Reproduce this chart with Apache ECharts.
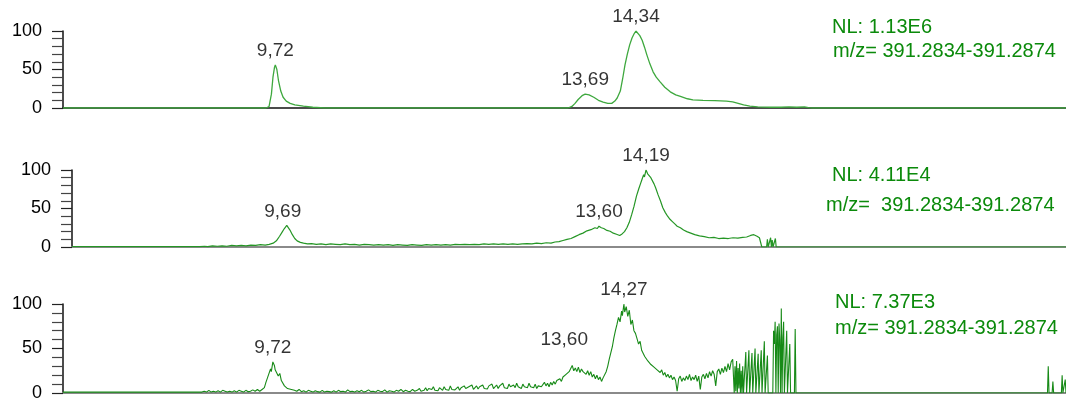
<!DOCTYPE html>
<html>
<head>
<meta charset="utf-8">
<script src="https://cdn.jsdelivr.net/npm/echarts@6/dist/echarts.min.js"></script>
<style>
  html, body { margin: 0; padding: 0; background: #fff; }
  #chart { width: 1066px; height: 406px; }
</style>
</head>
<body>
<div id="chart"></div>
<script>
// Extracted-ion chromatograms: [retention time (min), relative abundance (%)]
const traceA = [
  [7.00,0],[9.60,0],[9.64,2],[9.67,18],[9.69,40],[9.71,53],[9.72,56],[9.74,50],[9.76,36],[9.79,22],
  [9.82,14],[9.86,9],[9.91,6],[9.97,4],[10.08,2.5],[10.20,1],[10.35,0],
  [13.47,0],[13.52,2],[13.56,6],[13.60,11],[13.65,16],[13.69,18],[13.74,17],[13.80,14],[13.86,10],
  [13.92,7.5],[13.98,6],[14.03,6],[14.07,9],[14.10,13],[14.14,22],[14.17,38],[14.20,56],[14.23,70],
  [14.26,82],[14.29,91],[14.32,97],[14.34,100],[14.36,98],[14.39,94],[14.42,88],[14.45,79],[14.48,69],
  [14.52,57],[14.56,47],[14.60,40],[14.65,34],[14.71,27],[14.78,21],[14.85,17],[14.91,15],[15.00,12],
  [15.07,10.5],[15.20,10],[15.35,9.5],[15.50,9],[15.58,8],[15.65,6],[15.72,4],[15.80,2.5],[15.90,1.5],
  [16.06,1],[16.20,1],[16.30,1.5],[16.40,1],[16.50,1.5],[16.55,0.5],[16.60,0],[19.85,0]
];

const traceB = [
  [7.00,0.5],[8.60,0.5],[8.66,1],[8.70,0.5],[8.76,1.5],[8.82,1],[8.88,1.5],[8.94,1],[9.00,2],[9.06,1.5],
  [9.12,2],[9.18,1.5],[9.24,2.5],[9.30,2],[9.36,3],[9.42,2.5],[9.47,3.5],[9.52,5],[9.56,8],[9.60,14],
  [9.63,19],[9.66,24],[9.69,28],[9.71,26],[9.73,22],[9.76,16],[9.79,11],[9.82,8],[9.86,6],[9.90,5],
  [9.95,4],[10.00,4.5],[10.06,3.5],[10.12,4],[10.18,3],[10.24,4],[10.30,3.5],[10.36,3],[10.42,4],[10.48,3],
  [10.54,3.5],[10.60,2.5],[10.66,3.5],[10.72,3],[10.78,2.5],[10.84,3],[10.90,2.5],[10.96,3],[11.02,2],[11.08,3],
  [11.14,2.5],[11.20,2],[11.26,3],[11.32,2.5],[11.38,2],[11.44,3],[11.50,2.5],[11.56,3],[11.62,2.5],[11.68,3],
  [11.74,2.5],[11.80,3.5],[11.86,3],[11.92,3.5],[11.98,3],[12.04,3.5],[12.10,3],[12.16,4],[12.22,3.5],[12.28,4],
  [12.34,3.5],[12.40,4],[12.46,3.5],[12.52,4],[12.58,3.5],[12.64,4],[12.70,4.5],[12.76,4],[12.82,5],[12.88,4.5],
  [12.94,5.5],[13.00,5],[13.05,6.5],[13.10,7],[13.15,8.5],[13.20,10],[13.25,11],[13.30,13.5],[13.35,16],[13.40,18],
  [13.45,21],[13.50,22.5],[13.55,25],[13.58,24],[13.60,27],[13.63,25],[13.66,24],[13.70,21.5],[13.74,20.5],[13.78,18],
  [13.82,16.5],[13.86,15],[13.89,17],[13.92,20],[13.95,25],[13.98,32],[14.01,42],[14.04,53],[14.07,66],[14.10,76],
  [14.12,82],[14.14,88],[14.16,94],[14.17,91],[14.19,100],[14.21,95],[14.23,97],[14.25,90],[14.27,88],[14.29,82],
  [14.31,77],[14.34,68],[14.37,60],[14.40,51],[14.43,45],[14.46,40],[14.49,36],[14.52,33],[14.55,30],[14.58,27],
  [14.62,25],[14.66,22],[14.70,20],[14.75,18],[14.80,16],[14.86,14.5],[14.92,13.5],[14.98,12],[15.04,12.5],[15.10,11],
  [15.16,11.5],[15.22,11],[15.28,12],[15.34,11.5],[15.40,12.5],[15.45,13],[15.50,15],[15.54,16],[15.58,14],[15.61,12],
  [15.63,11],[15.64,0],[15.70,0],[15.71,10],[15.72,0],[15.74,0],[15.75,12],[15.76,0],[15.77,9],[15.78,0],
  [15.80,0],[15.81,11],[15.82,0],[19.45,0]
];

const traceC = [
  [7.00,1],[7.25,1],[7.26,3],[7.27,1],[7.53,1],[7.54,3],[7.55,1],[7.64,1],[7.65,2.5],[7.66,1],
  [7.73,1],[7.74,3],[7.75,1],[7.99,1],[8.00,3],[8.01,1],[8.16,1],[8.17,2.5],[8.18,1],[8.57,1],
  [8.58,3],[8.59,1],[8.80,1],[8.83,2],[8.86,1],[8.89,3],[8.92,1],[8.95,2],[8.98,1],[9.01,2.5],
  [9.04,1],[9.07,3],[9.10,2],[9.13,1],[9.16,2],[9.19,1],[9.22,2.5],[9.25,1],[9.28,3],[9.31,2],
  [9.34,1],[9.37,3],[9.40,1.5],[9.43,2],[9.46,3.5],[9.49,2],[9.52,4],[9.55,2],[9.58,4],[9.61,6],
  [9.63,12],[9.65,17],[9.67,22],[9.69,27],[9.70,24],[9.72,35],[9.74,31],[9.75,26],[9.77,28],[9.79,19],
  [9.81,22],[9.83,14],[9.85,12],[9.87,8],[9.89,10],[9.91,5],[9.93,6],[9.96,4],[9.98,5],
  [10.00,3],[10.03,2],[10.06,4],[10.09,1.5],[10.12,2.5],[10.15,1],[10.18,3],[10.21,2],[10.24,1],[10.27,2.5],
  [10.30,1.5],[10.33,1],[10.36,3],[10.39,1],[10.42,2],[10.45,1.5],[10.48,1],[10.51,2.5],[10.54,1],[10.57,3],
  [10.60,1.5],[10.63,2],[10.66,1],[10.69,3.5],[10.72,1.5],[10.75,2],[10.78,1],[10.81,2.5],[10.84,1.5],[10.87,3],
  [10.90,1],[10.93,2],[10.96,3.5],[10.99,1.5],[11.02,2],[11.05,1],[11.08,3],[11.11,2],[11.14,1.5],[11.17,3.5],
  [11.20,1],[11.23,2.5],[11.26,2],[11.29,1],[11.32,3],[11.35,2],[11.38,4],[11.41,1.5],[11.44,3],[11.47,2],
  [11.50,1.5],[11.53,4],[11.56,2],[11.59,3],
  [11.62,5],[11.64,2],[11.66,4],[11.68,3],[11.70,6],[11.72,2.5],[11.74,5],[11.76,3],[11.78,4],[11.80,7],
  [11.82,3],[11.84,5],[11.86,2.5],[11.88,6],[11.90,4],[11.92,3],[11.94,7],[11.96,4],[11.98,5],[12.00,3],
  [12.02,8],[12.04,4],[12.06,6],[12.08,3.5],[12.10,5],[12.12,7],[12.14,3],[12.16,6],[12.18,4],[12.20,8],
  [12.22,5],[12.24,3.5],[12.26,7],[12.28,5],[12.30,9],[12.32,4],[12.34,6],[12.36,8],[12.38,4.5],[12.40,7],
  [12.42,5],[12.44,9],[12.46,5],[12.48,7],[12.50,4.5],[12.52,8],[12.54,6],[12.56,10],[12.58,5],[12.60,7],
  [12.62,9],[12.64,5],[12.66,8],[12.68,6],[12.70,11],[12.72,6],[12.74,8],[12.76,5],[12.78,10],[12.80,7],
  [12.82,5],[12.84,9],[12.86,6],[12.88,11],[12.90,7],[12.92,8],[12.94,5],[12.96,10],[12.98,7],[13.00,9],
  [13.02,6],[13.04,11],[13.06,7],[13.08,9],[13.10,6],[13.12,10],[13.14,5],[13.16,8],[13.18,10],[13.20,7],
  [13.22,9],[13.24,12],[13.26,8],[13.28,11],[13.30,7],[13.32,12],[13.34,9],[13.36,13],[13.38,10],[13.40,14],
  [13.42,12],[13.44,16],[13.46,13],[13.48,18],[13.50,16],[13.52,21],[13.54,19],[13.56,24],[13.58,22],[13.60,31],
  [13.62,25],[13.64,28],[13.66,24],[13.68,29],[13.70,23],[13.72,27],[13.74,24],[13.76,26],[13.78,21],[13.80,25],
  [13.82,20],[13.84,24],[13.86,18],[13.88,21],[13.90,16],[13.92,20],[13.94,15],[13.96,18],[13.98,13],[14.00,17],
  [14.02,15],[14.04,24],[14.06,30],[14.08,38],[14.10,45],[14.12,52],[14.14,62],[14.16,70],[14.18,77],[14.20,85],
  [14.22,80],[14.24,92],[14.25,87],[14.27,100],[14.28,91],[14.30,97],[14.32,86],[14.34,93],[14.36,77],[14.38,82],
  [14.40,70],[14.42,67],[14.44,61],[14.46,55],[14.48,58],[14.50,48],[14.52,46],[14.54,41],[14.56,43],[14.58,36],
  [14.60,38],[14.62,32],[14.64,34],[14.66,29],[14.68,31],[14.70,26],[14.72,28],[14.74,23],[14.76,26],[14.78,20],
  [14.80,23],[14.82,18],[14.84,21],[14.86,17],[14.88,20],[14.90,15],[14.92,18],[14.94,14],[14.96,2],[14.98,16],
  [15.00,19],[15.02,13],[15.04,17],[15.06,14],[15.08,19],[15.10,15],[15.12,21],[15.14,14],[15.16,18],[15.18,15],
  [15.20,20],[15.22,13],[15.24,19],[15.26,4],[15.28,18],[15.30,21],[15.32,16],[15.34,22],[15.36,17],[15.38,24],
  [15.40,19],[15.42,25],[15.44,21],[15.46,8],[15.48,24],[15.50,27],[15.52,21],[15.54,28],[15.56,23],[15.58,30],
  [15.60,24],[15.62,33],[15.64,26],[15.66,35],[15.68,38],
  [15.70,0],[15.71,30],[15.72,2],[15.73,36],[15.74,0],[15.75,28],[15.76,5],[15.77,33],[15.78,0],[15.79,25],
  [15.80,0],[15.81,30],[15.82,0],[15.84,0],[15.85,46],[15.86,0],[15.88,0],[15.89,48],[15.90,0],[15.92,0],
  [15.93,45],[15.94,0],[15.96,0],[15.97,50],[15.98,0],[16.00,0],[16.01,44],[16.02,0],[16.04,0],[16.05,48],
  [16.06,0],[16.08,0],[16.09,58],[16.10,0],[16.12,0],[16.13,42],[16.14,0],[16.20,0],[16.21,70],[16.22,55],
  [16.23,80],[16.24,0],[16.25,65],[16.26,75],[16.27,0],[16.28,78],[16.29,60],[16.30,0],[16.31,95],[16.32,0],
  [16.33,62],[16.34,80],[16.35,0],[16.37,0],[16.38,70],[16.39,0],[16.41,0],[16.42,55],[16.43,0],[16.48,0],
  [16.49,72],[16.50,0],[19.76,0],[19.77,30],[19.78,0],[19.82,0],[19.83,13],[19.84,0],[19.94,0],[19.95,20],
  [19.96,0],[19.98,0],[19.99,15],[20.00,0]
];

// Labelled peak apexes (retention time, min)
const peaksA = [9.72, 13.69, 14.34];
const peaksB = [9.69, 13.60, 14.19];
const peaksC = [9.72, 13.60, 14.27];

// Normalisation level of each trace and the extracted mass window
const nlLevels = ['NL: 1.13E6', 'NL: 4.11E4', 'NL: 7.37E3'];
const mzLines = ['m/z= 391.2834-391.2874', 'm/z=  391.2834-391.2874', 'm/z= 391.2834-391.2874'];

// Retention-time window of each panel and the abundance scale
const rtRanges = [[7, 19.85], [7, 19.45], [7, 20]];
const yTicks = [0, 50, 100];

const FONT = '"Liberation Sans", Arial, sans-serif';

const panels = [
  { trace: traceA, peaks: peaksA, left: 63, top: 31, height: 77, line: '#3ea83e', lineW: 1.3, base: '#111', baseW: 1.5,
    nl: [832, 27], mz: [833, 51], labelShift: {} },
  { trace: traceB, peaks: peaksB, left: 72, top: 170, height: 77, line: '#259625', lineW: 1.2, base: '#8a8a8a', baseW: 2,
    nl: [832, 175], mz: [826, 205], labelShift: { 0: [-4, 0] } },
  { trace: traceC, peaks: peaksC, left: 63, top: 304, height: 89, line: '#178a17', lineW: 1.1, base: '#8a8a8a', baseW: 2,
    nl: [835, 302], mz: [835, 328], labelShift: { 1: [-8, -12] } }
];

function valueAt(trace, t) {
  const hit = trace.find(p => Math.abs(p[0] - t) < 1e-9);
  return hit ? hit[1] : 0;
}

const grid = [], xAxis = [], yAxis = [], series = [], graphic = [];

panels.forEach((p, i) => {
  grid.push({ left: p.left, right: 0, top: p.top, height: p.height });
  xAxis.push({
    type: 'value', gridIndex: i, min: rtRanges[i][0], max: rtRanges[i][1],
    axisLine: { show: true, onZero: false, lineStyle: { color: p.base, width: p.baseW } },
    axisTick: { show: false }, axisLabel: { show: false }, splitLine: { show: false }
  });
  yAxis.push({
    type: 'value', gridIndex: i, min: yTicks[0], max: yTicks[yTicks.length - 1],
    interval: yTicks[1] - yTicks[0],
    axisLine: { show: true, lineStyle: { color: '#111', width: 1.5 } },
    axisTick: { show: true, length: 11, lineStyle: { color: '#222', width: 1.2 } },
    minorTick: { show: true, splitNumber: 5, length: 11, lineStyle: { color: '#444', width: 1.2 } },
    axisLabel: { margin: 21, fontSize: 18, color: '#000', fontFamily: FONT },
    splitLine: { show: false }
  });
  series.push({
    type: 'line', xAxisIndex: i, yAxisIndex: i, data: p.trace,
    showSymbol: false, symbol: 'none', silent: true, smooth: false,
    lineStyle: { color: p.line, width: p.lineW }, z: 3
  });
  series.push({
    type: 'scatter', xAxisIndex: i, yAxisIndex: i, silent: true, z: 4,
    symbolSize: 1, itemStyle: { color: 'rgba(0,0,0,0)' },
    data: p.peaks.map((t, k) => {
      const sh = p.labelShift[k] || [0, 0];
      return {
        value: [t, valueAt(p.trace, t)],
        label: { offset: sh }
      };
    }),
    label: {
      show: true, position: 'top', distance: 4,
      formatter: d => d.value[0].toFixed(2).replace('.', ','),
      fontSize: 19, color: '#000', fontFamily: FONT
    }
  });
  graphic.push({
    type: 'text', x: p.nl[0], y: p.nl[1],
    style: { text: nlLevels[i], fill: '#0b8a0b', font: '20px ' + FONT,
             verticalAlign: 'middle', textVerticalAlign: 'middle' }
  });
  graphic.push({
    type: 'text', x: p.mz[0], y: p.mz[1],
    style: { text: mzLines[i], fill: '#0b8a0b', font: '20px ' + FONT,
             verticalAlign: 'middle', textVerticalAlign: 'middle' }
  });
});

const chart = echarts.init(document.getElementById('chart'), null, { renderer: 'canvas' });
chart.setOption({
  animation: false,
  backgroundColor: '#fff',
  grid, xAxis, yAxis, series, graphic
});
</script>
</body>
</html>
